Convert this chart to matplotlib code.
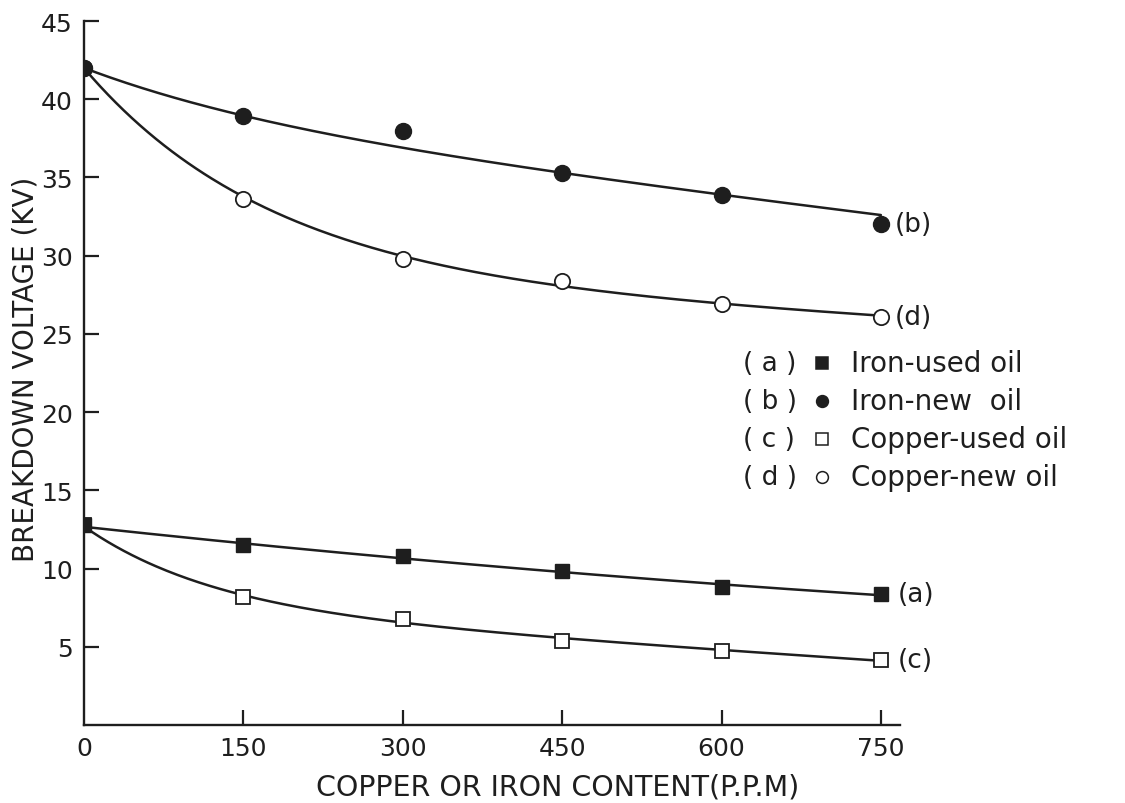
import numpy as np
import matplotlib
matplotlib.use("Agg")
import matplotlib.pyplot as plt

# ---- data ----
content_ppm = [0, 150, 300, 450, 600, 750]

iron_used = [12.8, 11.5, 10.8, 9.85, 8.85, 8.35]      # (a)
iron_new = [42.0, 38.9, 38.0, 35.3, 33.9, 32.0]       # (b)
copper_used = [12.8, 8.2, 6.8, 5.35, 4.7, 4.15]       # (c)
copper_new = [42.0, 33.6, 29.8, 28.4, 26.9, 26.1]     # (d)

# hand-drawn fitted curves (values of the curve at each content level)
fit_iron_used = [12.7, 11.5, 10.75, 9.85, 8.85, 8.35]
fit_iron_new = [42.0, 38.95, 36.9, 35.3, 33.9, 32.6]
fit_copper_used = [12.7, 8.2, 6.8, 5.4, 4.7, 4.2]
fit_copper_new = [42.0, 33.7, 30.1, 28.0, 26.9, 26.2]

curve_tags = ["(a)", "(b)", "(c)", "(d)"]
legend_tags = ["( a )", "( b )", "( c )", "( d )"]
legend_names = ["Iron-used oil", "Iron-new  oil", "Copper-used oil", "Copper-new oil"]

x_ticks = [0, 150, 300, 450, 600, 750]
y_ticks = [5, 10, 15, 20, 25, 30, 35, 40, 45]
x_label = "COPPER OR IRON CONTENT(P.P.M)"
y_label = "BREAKDOWN VOLTAGE (KV)"


def smooth_curve(xk, yk, n=300):
    """Smooth decaying curve y = a + c*x + b*exp(-k x) fitted to the knots."""
    xk = np.asarray(xk, float)
    yk = np.asarray(yk, float)
    best = None
    for k in np.logspace(-4, -1.5, 300):
        B = np.column_stack([np.ones_like(xk), xk, np.exp(-k * xk)])
        coef, *_ = np.linalg.lstsq(B, yk, rcond=None)
        res = np.sum((B @ coef - yk) ** 2)
        if best is None or res < best[0]:
            best = (res, k, coef)
    _, k, coef = best
    xs = np.linspace(xk[0], xk[-1], n)
    ys = coef[0] + coef[1] * xs + coef[2] * np.exp(-k * xs)
    return xs, ys


ink = "#1e1e1e"
plt.rcParams["font.family"] = ["DejaVu Sans"]

fig = plt.figure(figsize=(11.25, 8.04), dpi=100)
fig.patch.set_facecolor("white")
ax = fig.add_axes([0.0747, 0.097, 0.7253, 0.8756])
ax.set_facecolor("white")

# curves
for fit in (fit_iron_new, fit_copper_new, fit_iron_used, fit_copper_used):
    xs, ys = smooth_curve(content_ppm, fit)
    ax.plot(xs, ys, color=ink, lw=1.8, zorder=2, solid_capstyle="round")

# markers
ax.plot(content_ppm, copper_new, linestyle="none", marker="o", ms=11,
        mfc="white", mec=ink, mew=1.3, zorder=3)
ax.plot(content_ppm, iron_new, linestyle="none", marker="o", ms=11.5,
        mfc=ink, mec=ink, zorder=4)
ax.plot(content_ppm, copper_used, linestyle="none", marker="s", ms=9.5,
        mfc="white", mec=ink, mew=1.3, zorder=3)
ax.plot(content_ppm, iron_used, linestyle="none", marker="s", ms=9.5,
        mfc=ink, mec=ink, zorder=4)

# curve tags at the right end
tag_series = [iron_used, iron_new, copper_used, copper_new]
tag_offsets = [12, 10, 12, 10]
for tag, ser, off in zip(curve_tags, tag_series, tag_offsets):
    ax.annotate(tag, xy=(content_ppm[-1], ser[-1]), xytext=(off, 0),
                textcoords="offset points", ha="left", va="center",
                fontsize=19, color=ink)

# axes styling
ax.set_xlim(0, 768)
ax.set_ylim(0, 45)
ax.set_xticks(x_ticks)
ax.set_yticks(y_ticks)
ax.set_xticklabels([str(v) for v in x_ticks])
ax.set_yticklabels([str(v) for v in y_ticks])
for s in ("top", "right"):
    ax.spines[s].set_visible(False)
for s in ("left", "bottom"):
    ax.spines[s].set_linewidth(1.7)
    ax.spines[s].set_color(ink)
ax.tick_params(axis="both", direction="in", length=11, width=1.6,
               color=ink, labelcolor=ink, labelsize=18, pad=8)
ax.xaxis.get_major_ticks()[0].tick1line.set_visible(False)

ax.set_xlabel(x_label, fontsize=20.5, color=ink, va="center")
ax.xaxis.set_label_coords(0.58, -0.088)
ax.set_ylabel(y_label, fontsize=20, color=ink, va="center")
ax.yaxis.set_label_coords(-0.072, 0.506)

# legend (drawn manually in figure pixels)
W, H = 1125.0, 804.0
rows_y = [364, 402, 440, 478]
markers = [("s", ink, 9), ("o", ink, 8.5), ("s", "white", 9), ("o", "white", 8.5)]
for yy, tg, nm, (mk, fc, ms) in zip(rows_y, legend_tags, legend_names, markers):
    fy = 1 - yy / H
    fig.text(743 / W, fy, tg, fontsize=19, color=ink, ha="left", va="center")
    fig.add_artist(plt.Line2D([822 / W], [fy], marker=mk, ms=ms, mfc=fc,
                              mec=ink, mew=1.1, linestyle="none",
                              transform=fig.transFigure))
    fig.text(851 / W, fy, nm, fontsize=20, color=ink, ha="left", va="center")

fig.savefig("out.png", dpi=100, facecolor="white")
